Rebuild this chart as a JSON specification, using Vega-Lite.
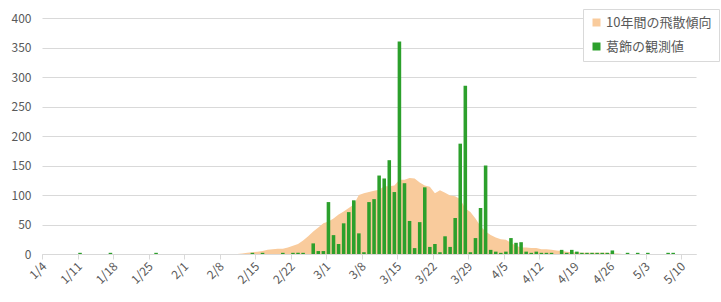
{
"$schema": "https://vega.github.io/schema/vega-lite/v6.json",
"width": 654, "height": 236,
"autosize": {"type": "none"},
"padding": {"left": 42, "top": 18, "right": 25, "bottom": 48},
"background": "white",
"config": {"font": "Noto Sans CJK JP", "view": {"stroke": null},
  "axisY": {"values": [0,50,100,150,200,250,300,350,400], "gridColor": "#d9d9d9", "gridWidth": 1, "domain": false, "ticks": false, "labelFontSize": 12, "labelColor": "#595959", "labelPadding": 11}},
"data": {"values": [
{"d":"2023-01-04"},{"d":"2023-01-05"},{"d":"2023-01-06"},{"d":"2023-01-07"},{"d":"2023-01-08"},{"d":"2023-01-09"},{"d":"2023-01-10"},{"d":"2023-01-11","o":2},{"d":"2023-01-12"},{"d":"2023-01-13"},{"d":"2023-01-14"},{"d":"2023-01-15"},{"d":"2023-01-16"},{"d":"2023-01-17","o":2},{"d":"2023-01-18"},{"d":"2023-01-19"},{"d":"2023-01-20"},{"d":"2023-01-21"},{"d":"2023-01-22"},{"d":"2023-01-23"},{"d":"2023-01-24"},{"d":"2023-01-25"},{"d":"2023-01-26","o":2},{"d":"2023-01-27"},{"d":"2023-01-28"},{"d":"2023-01-29"},{"d":"2023-01-30"},{"d":"2023-01-31"},
{"d":"2023-02-01"},{"d":"2023-02-02"},{"d":"2023-02-03"},{"d":"2023-02-04"},{"d":"2023-02-05"},{"d":"2023-02-06"},{"d":"2023-02-07"},{"d":"2023-02-08"},{"d":"2023-02-09"},{"d":"2023-02-10"},
{"d":"2023-02-11","t":0},{"d":"2023-02-12","t":1},{"d":"2023-02-13","t":2},{"d":"2023-02-14","t":3,"o":2},{"d":"2023-02-15","t":4},{"d":"2023-02-16","t":5,"o":2},{"d":"2023-02-17","t":7},{"d":"2023-02-18","t":8},{"d":"2023-02-19","t":9},{"d":"2023-02-20","t":9,"o":2},{"d":"2023-02-21","t":11},{"d":"2023-02-22","t":14,"o":2},{"d":"2023-02-23","t":17,"o":2},{"d":"2023-02-24","t":23,"o":2},{"d":"2023-02-25","t":30},{"d":"2023-02-26","t":38,"o":18},{"d":"2023-02-27","t":45,"o":5},{"d":"2023-02-28","t":52,"o":5},
{"d":"2023-03-01","t":55,"o":88},{"d":"2023-03-02","t":60,"o":32},{"d":"2023-03-03","t":67,"o":17},{"d":"2023-03-04","t":72,"o":52},{"d":"2023-03-05","t":78,"o":71},{"d":"2023-03-06","t":84,"o":91},{"d":"2023-03-07","t":100,"o":35},{"d":"2023-03-08","t":103,"o":3},{"d":"2023-03-09","t":105,"o":88},{"d":"2023-03-10","t":107,"o":93},{"d":"2023-03-11","t":109,"o":133},{"d":"2023-03-12","t":115,"o":128},{"d":"2023-03-13","t":115,"o":159},{"d":"2023-03-14","t":116,"o":105},{"d":"2023-03-15","t":126,"o":360},{"d":"2023-03-16","t":126,"o":120},{"d":"2023-03-17","t":129,"o":56},{"d":"2023-03-18","t":128,"o":10},{"d":"2023-03-19","t":121,"o":54},{"d":"2023-03-20","t":116,"o":113},{"d":"2023-03-21","t":114,"o":12},{"d":"2023-03-22","t":103,"o":17},{"d":"2023-03-23","t":108,"o":3},{"d":"2023-03-24","t":104,"o":30},{"d":"2023-03-25","t":99,"o":12},{"d":"2023-03-26","t":98,"o":61},{"d":"2023-03-27","t":93,"o":187},{"d":"2023-03-28","t":77,"o":285},{"d":"2023-03-29","t":71,"o":3},{"d":"2023-03-30","t":60,"o":27},{"d":"2023-03-31","t":47,"o":78},
{"d":"2023-04-01","t":38,"o":150},{"d":"2023-04-02","t":32,"o":7},{"d":"2023-04-03","t":28,"o":4},{"d":"2023-04-04","t":25,"o":2},{"d":"2023-04-05","t":24,"o":4},{"d":"2023-04-06","t":19,"o":27},{"d":"2023-04-07","t":14,"o":19},{"d":"2023-04-08","t":11,"o":20},{"d":"2023-04-09","t":11,"o":4},{"d":"2023-04-10","t":10,"o":2},{"d":"2023-04-11","t":10,"o":4},{"d":"2023-04-12","t":8,"o":2},{"d":"2023-04-13","t":8,"o":2},{"d":"2023-04-14","t":7,"o":2},{"d":"2023-04-15","t":6},{"d":"2023-04-16","t":5,"o":7},{"d":"2023-04-17","t":4,"o":2},{"d":"2023-04-18","t":3,"o":7},{"d":"2023-04-19","t":3,"o":4},{"d":"2023-04-20","t":2,"o":2},{"d":"2023-04-21","t":2,"o":2},{"d":"2023-04-22","t":2,"o":2},{"d":"2023-04-23","t":2,"o":2},{"d":"2023-04-24","t":2,"o":2},{"d":"2023-04-25","t":2,"o":2},{"d":"2023-04-26","t":1,"o":6},{"d":"2023-04-27","t":1},{"d":"2023-04-28","t":0},{"d":"2023-04-29","o":2},{"d":"2023-04-30"},
{"d":"2023-05-01","o":2},{"d":"2023-05-02"},{"d":"2023-05-03","o":2},{"d":"2023-05-04"},{"d":"2023-05-05"},{"d":"2023-05-06"},{"d":"2023-05-07","o":2},{"d":"2023-05-08","o":2},{"d":"2023-05-09"},{"d":"2023-05-10"},{"d":"2023-05-11"},{"d":"2023-05-12"}
]},
"encoding": {
  "x": {"field": "d", "type": "ordinal",
    "scale": {"paddingInner": 0.3, "paddingOuter": 0.15},
    "axis": {"title": null,
      "values": ["2023-01-04","2023-01-11","2023-01-18","2023-01-25","2023-02-01","2023-02-08","2023-02-15","2023-02-22","2023-03-01","2023-03-08","2023-03-15","2023-03-22","2023-03-29","2023-04-05","2023-04-12","2023-04-19","2023-04-26","2023-05-03","2023-05-10"],
      "labelExpr": "utcFormat(toDate(datum.value), '%-m/%-d')",
      "labelAngle": -45, "labelAlign": "right", "labelBaseline": "middle",
      "labelFontSize": 12, "labelColor": "#595959", "labelPadding": 5,
      "domainColor": "#d9d9d9", "tickColor": "#d9d9d9", "tickSize": 5, "bandPosition": 0, "grid": false}}
},
"layer": [
  {"mark": {"type": "area", "opacity": 1},
   "encoding": {
     "y": {"field": "t", "type": "quantitative", "scale": {"domain": [0, 400]}, "axis": {"title": null}},
     "color": {"datum": "10年間の飛散傾向", "type": "nominal",
       "scale": {"domain": ["10年間の飛散傾向", "葛飾の観測値"], "range": ["#F9CB9C", "#2CA02C"]},
       "legend": {"orient": "none", "legendX": 541, "legendY": -9, "title": null, "symbolType": "square", "symbolSize": 64, "symbolStrokeWidth": 0, "symbolOpacity": 1, "labelFontSize": 13, "labelColor": "#595959", "labelOffset": 3, "strokeColor": "#d9d9d9", "fillColor": "white", "padding": 7, "rowPadding": 10}}
   }},
  {"mark": {"type": "bar"},
   "encoding": {
     "y": {"field": "o", "type": "quantitative", "scale": {"domain": [0, 400]}, "axis": {"title": null}},
     "color": {"datum": "葛飾の観測値", "type": "nominal"}
   }}
]
}
